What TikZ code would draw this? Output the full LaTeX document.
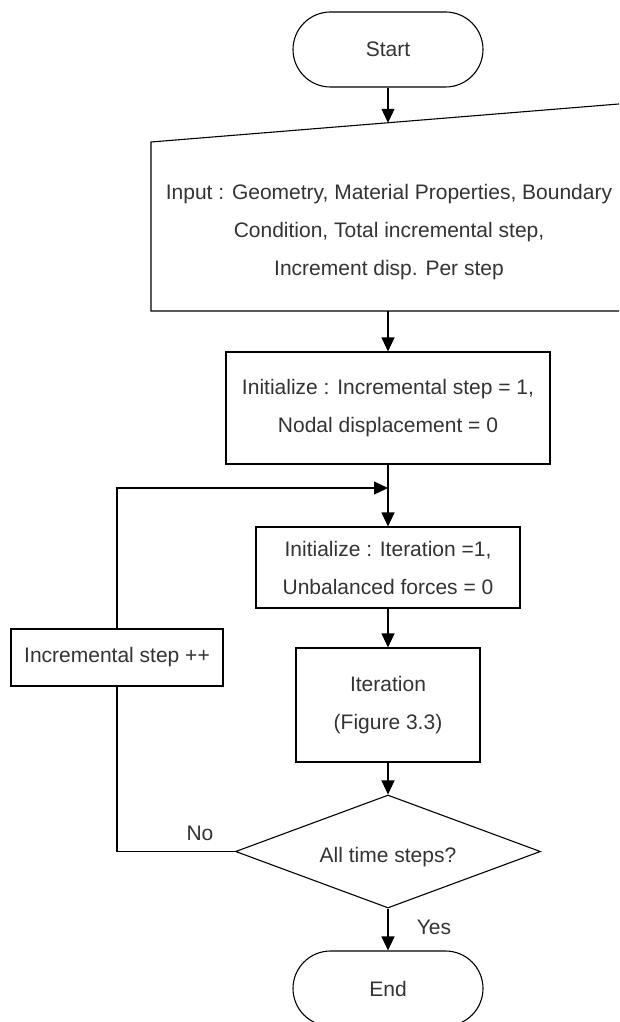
\documentclass[tikz,border=0pt]{standalone}
\usepackage{fontspec}
\setmainfont{Liberation Sans}
\usetikzlibrary{arrows.meta,shapes.geometric,shapes.misc}
\begin{document}
\begin{tikzpicture}[x=1pt,y=-1pt,line width=1.1pt,
  every node/.style={text=black!80,font=\fontsize{21}{38}\selectfont,align=center},
  term/.style={draw=black,text=black!80,rounded rectangle,minimum width=190pt,minimum height=75pt,inner sep=0pt},
  procbox/.style={draw=black,rectangle,inner sep=0pt},
  decision/.style={draw=black,diamond,aspect=2.7,minimum width=305pt,minimum height=113pt,inner sep=0pt},
  flow/.style={draw=black,-{Triangle[length=14pt,width=13pt]}},
  link/.style={draw=black}]
\useasboundingbox (0,0) rectangle (619,1022);
\clip (0,0) rectangle (619,1022);
\fill[white] (0,0) rectangle (619,1022);

% terminal: start
\node[term] (start) at (388,49.5) {Start};

% manual input (slanted top edge)
\draw (151,142) -- (625,103.5) -- (625,311) -- (151,311) -- cycle;
\coordinate (intop) at (388,122.8);
\coordinate (inbot) at (388,311);
\node (inp) at (389,232) {Input : Geometry, Material Properties, Boundary\\
  Condition, Total incremental step,\\ Increment disp. Per step};

% process boxes
\node[procbox,minimum width=324pt,minimum height=112pt] (init1) at (388,408)
  {Initialize : Incremental step = 1,\\ Nodal displacement = 0};
\node[procbox,minimum width=264pt,minimum height=81pt] (init2) at (388,567.5)
  {Initialize : Iteration =1,\\ Unbalanced forces = 0};
\node[procbox,minimum width=184pt,minimum height=114pt] (iter) at (388,705)
  {Iteration\\ (Figure 3.3)};
\node[procbox,minimum width=212pt,minimum height=57pt] (inc) at (117,657.5)
  {Incremental step ++};

% decision and end
\node[decision] (dec) at (388,851.5) {};
\node at (388,857) {All time steps?};
\node[term] (finish) at (388,988.5) {End};

% connectors
\coordinate (join) at (388,488);
\coordinate (cornerB) at (117,851.5);
\coordinate (cornerT) at (117,488);
\draw[flow] (start.south) -- (intop);
\draw[flow] (inbot) -- (init1.north);
\draw[flow] (init1.south) -- (init2.north);
\draw[flow] (init2.south) -- (iter.north);
\draw[flow] (iter.south) -- (dec.north);
\draw[flow] (dec.south) -- (finish.north);
\draw[link] (dec.west) -- (cornerB) -- (inc.south);
\draw[flow] (inc.north) -- (cornerT) -- (join);

% branch labels
\node (no) at (200,833) {No};
\node (yes) at (434,927) {Yes};
\end{tikzpicture}
\end{document}
